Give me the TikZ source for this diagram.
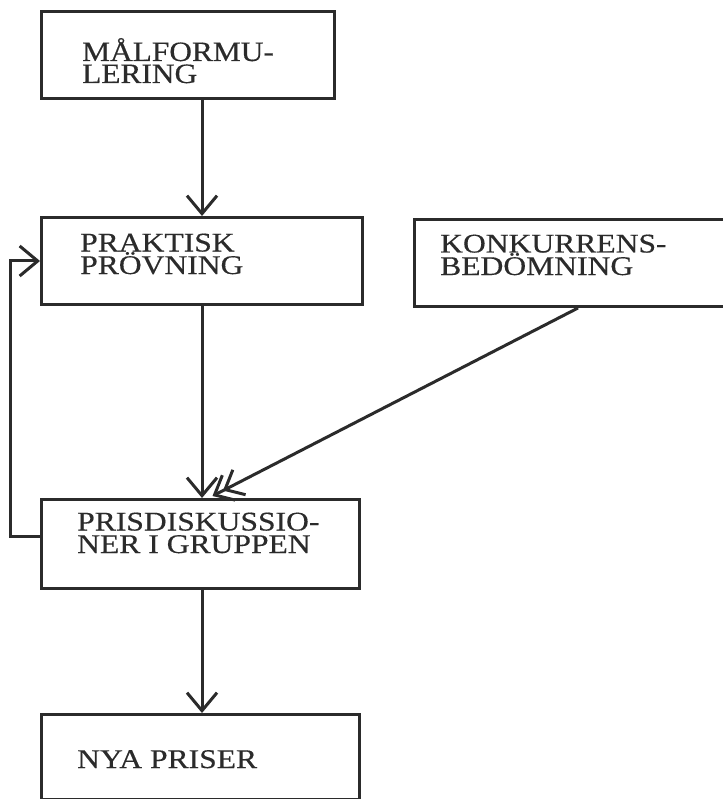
\documentclass[tikz,border=0pt]{standalone}
\usepackage{fontspec}
\setmainfont{Liberation Serif}
\newfontfamily\typeface[FakeStretch=1.17,FakeBold=0.4]{Liberation Serif}
\newfontfamily\typefacebig[FakeStretch=1.12,FakeBold=0.4]{Liberation Serif}
\usetikzlibrary{arrows.meta}
\definecolor{ink}{HTML}{2B2B2B}
\tikzset{
  box/.style={draw=ink, line width=3pt, anchor=north west, inner sep=0pt},
  lbl/.style={anchor=base west, align=left, inner sep=0pt, text=ink,
    font={\typeface\fontsize{27}{22.5}\selectfont\lineskiplimit=-50pt}},
  lblbig/.style={lbl,
    font={\typefacebig\fontsize{28}{22}\selectfont\lineskiplimit=-50pt}},
  flow/.style={draw=ink, line width=3pt,
    -{Straight Barb[length=18pt,width=30pt,line width=3pt]}},
  flowtwo/.style={draw=ink, line width=3pt,
    -{Straight Barb[length=16pt,width=28pt,line width=3pt,sep=-8pt]Straight Barb[length=16pt,width=28pt,line width=3pt]}},
}
\begin{document}
\begin{tikzpicture}[x=1pt,y=-1pt]
  \useasboundingbox[fill=white] (0,0) rectangle (722,799);

  % boxes
  \node[box, minimum width=293pt, minimum height=87pt] (mal)  at (40,10)  {};
  \node[box, minimum width=321pt, minimum height=87pt] (prak) at (40,216) {};
  \node[box, minimum width=327pt, minimum height=87pt] (konk) at (413,218) {};
  \node[box, minimum width=318pt, minimum height=89pt] (pris) at (40,498) {};
  \node[box, minimum width=318pt, minimum height=85pt] (nya)  at (40,713) {};

  % labels (anchored at the baseline of their last line)
  \node[lblbig] (malT)  at (82,83)   {MÅLFORMU-\\LERING};
  \node[lbl]    (prakT) at (80,274)  {PRAKTISK\\PRÖVNING};
  \node[lbl]    (konkT) at (440,275) {KONKURRENS-\\BEDÖMNING};
  \node[lbl]    (prisT) at (77,553)  {PRISDISKUSSIO-\\NER I GRUPPEN};
  \node[lbl]    (nyaT)  at (77,768)  {NYA PRISER};

  % flow
  \draw[flow] (prak.north |- mal.south) -- (prak.north);
  \draw[flow] (prak.south) -- (prak.south |- pris.north);
  \draw[flow] (prak.south |- pris.south) -- (prak.south |- nya.north);
  \draw[flowtwo] (konk.south) -- ([xshift=12pt,yshift=2pt]pris.north);
  \draw[flow] ([yshift=8pt]pris.west) -- ++(-30pt,0) |- (prak.west);
\end{tikzpicture}
\end{document}
